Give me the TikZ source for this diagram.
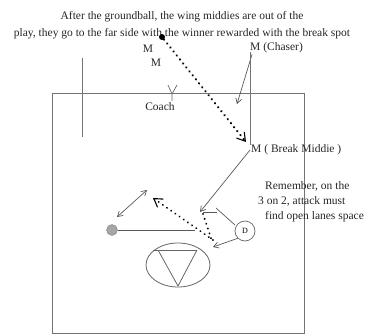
\documentclass[tikz,border=0pt]{standalone}
\usepackage{fontspec}
\setmainfont{Liberation Serif}
\usetikzlibrary{arrows.meta,shapes.geometric}

\begin{document}
\begin{tikzpicture}[x=1pt, y=-1pt, font=\fontsize{11.5}{15}\selectfont,
    field/.style={draw=black!55, line width=0.9pt},
    run/.style={draw=black!65, line width=0.7pt, -{Straight Barb[length=5pt, width=6pt]}},
    ballpath/.style={draw=black, line width=2.4pt, line cap=round, dash pattern=on 0.1pt off 5pt, -{Straight Barb[length=8pt, width=10pt, line width=1.1pt]}},
    lbl/.style={inner sep=1pt, text=black!85}]
    \useasboundingbox (0,0) rectangle (370,335);

    % Field
    \draw [field] (52,93) rectangle (304,333);
    \draw [field] (82,58) -- (82,137);

    % Nodes
    \node [lbl, align=center, font=\fontsize{11.5}{17}\selectfont] (title) at (182,25) {After the groundball, the wing middies are out of the\\play, they go to the far side with the winner rewarded with the break spot};
    \node [circle, fill=black, inner sep=0pt, minimum size=6pt] (ball) at (162,37) {};
    \node [lbl] (mida) at (148,49) {M};
    \node [lbl] (midb) at (156,63) {M};
    \node [lbl, anchor=west] (chaser) at (249,48) {M (Chaser)};
    \node [lbl] (coach) at (160,107) {Coach};
    \node [lbl, anchor=west] (breakmid) at (250,150) {M ( Break Middie )};
    \node [lbl, anchor=west, align=left] (note) at (257,202) {\hspace{7pt}Remember, on the\\3 on 2, attack must\\\hspace{7pt}find open lanes space};
    \node [circle, fill=black!35, draw=black!50, inner sep=0pt, minimum size=11pt] (attl) at (112,230) {};
    \node [circle, draw=black!60, line width=0.7pt, inner sep=0pt, minimum size=20pt, font=\fontsize{8}{9}\selectfont] (defr) at (245,231) {D};
    \node [ellipse, draw=black!60, line width=0.8pt, minimum width=64pt, minimum height=44pt, inner sep=0pt] (crease) at (178,265) {};
    \coordinate (breakspot) at (246,142);
    \coordinate (chaserstop) at (237,104);
    \coordinate (slide) at (200,212);
    \coordinate (feed) at (195,230);
    \coordinate (pass) at (153,198);
    \coordinate (drive) at (213,247);

    % Goal
    \draw [draw=black!60, line width=0.8pt] (153,250) -- (197,250);
    \draw [draw=black!60, line width=0.8pt] (158,250) -- (178,286) -- (197,250);

    % Coach mark
    \draw [draw=black!60, line width=0.7pt] (168,85) -- (172,94) -- (177,85) (172,94) -- (172,101);

    % Arrows
    \draw [ballpath] (ball) -- (breakspot);
    \draw [run] (chaser.south west) ++(3,0) -- (chaserstop);
    \draw [field, line width=0.8pt] (250,52) -- (250,145);
    \draw [run] (breakmid.west) -- (slide);
    \draw [draw=black!65, line width=0.7pt] (slide) ++(3,0) -- ++(14,0);
    \draw [draw=black!65, line width=0.7pt] (216,208) -- (235,225);
    \draw [draw=black!65, line width=0.7pt] (attl) -- (feed);
    \draw [run, {Straight Barb[length=5pt, width=6pt]}-{Straight Barb[length=5pt, width=6pt]}] (117,217) -- (147,190);
    \draw [ballpath, line width=2pt] (213,240) -- (pass);
    \draw [ballpath, line width=2pt, -] (203,214) -- (212,241);
    \draw [run] (defr.south west) -- (drive);
\end{tikzpicture}
\end{document}
